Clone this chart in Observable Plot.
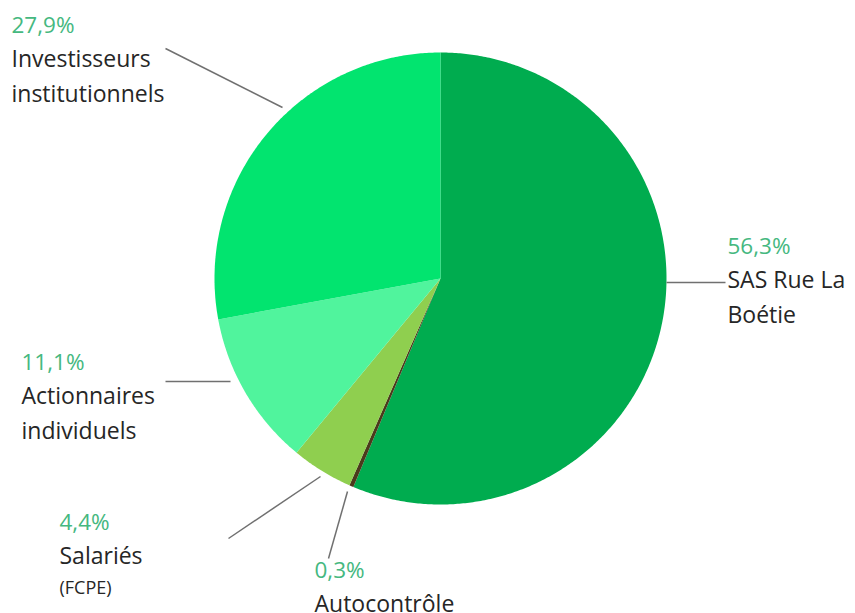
<!DOCTYPE html>
<html>
<head>
<meta charset="utf-8">
<script src="https://cdn.jsdelivr.net/npm/d3@7"></script>
<script src="https://cdn.jsdelivr.net/npm/@observablehq/plot@0.6"></script>
<style>
  html, body { margin: 0; padding: 0; background: #fff; }
  #chart { width: 855px; height: 613px; }
</style>
</head>
<body>
<div id="chart"></div>
<script>
// ---- data ----
const categories = ["SAS Rue La Boétie", "Autocontrôle", "Salariés (FCPE)", "Actionnaires individuels", "Investisseurs institutionnels"];
const values = [56.3, 0.3, 4.4, 11.1, 27.9];
const pctLabels = ["56,3%", "0,3%", "4,4%", "11,1%", "27,9%"];
const nameLines = [["SAS Rue La", "Boétie"], ["Autocontrôle"], ["Salariés"], ["Actionnaires", "individuels"], ["Investisseurs", "institutionnels"]];
const subLines = [null, null, "(FCPE)", null, null];
const colors = ["#00ac4f", "#4b3a1c", "#8fcf4f", "#50f49d", "#02e46f"];

// ---- layout ----
const W = 855, H = 613;
const cx = 440, cy = 278, R = 226;
// label layout: text left x, percent-line center y, leader line (from -> to)
const labelLayout = [
  {tx: 727, ty: 246, x1: 666, y1: 282, x2: 725, y2: 282},
  {tx: 314, ty: 570, x1: 347, y1: 491, x2: 328, y2: 558},
  {tx: 59,  ty: 522, x1: 320, y1: 476, x2: 228, y2: 538},
  {tx: 21,  ty: 362, x1: 230, y1: 381, x2: 165, y2: 381},
  {tx: 11,  ty: 25,  x1: 282, y1: 107, x2: 165, y2: 48}
];
const lineGap = 34.5;

// slices from d3.pie (clockwise from 12 o'clock)
const arcs = d3.pie().sort(null).value(d => d)(values);
const slicePts = [];
arcs.forEach((a, i) => {
  slicePts.push({slice: categories[i], x: cx, y: cy});
  const n = Math.max(2, Math.ceil((a.endAngle - a.startAngle) / (Math.PI / 360)));
  for (let k = 0; k <= n; k++) {
    const t = a.startAngle + (a.endAngle - a.startAngle) * k / n;
    slicePts.push({slice: categories[i], x: cx + R * Math.sin(t), y: cy - R * Math.cos(t)});
  }
});

const pctRows = categories.map((c, i) => ({text: pctLabels[i], x: labelLayout[i].tx, y: labelLayout[i].ty}));
const nameRows = [];
const subRows = [];
categories.forEach((c, i) => {
  nameLines[i].forEach((t, j) => nameRows.push({text: t, x: labelLayout[i].tx, y: labelLayout[i].ty + lineGap * (j + 1)}));
  if (subLines[i]) subRows.push({text: subLines[i], x: labelLayout[i].tx, y: labelLayout[i].ty + lineGap * (nameLines[i].length + 1) - 3});
});
const links = labelLayout.map((l, i) => ({...l, slice: categories[i]}));

const chart = Plot.plot({
  width: W, height: H,
  margin: 0,
  x: {domain: [0, W], range: [0, W], axis: null},
  y: {domain: [0, H], range: [0, H], axis: null},
  color: {domain: categories, range: colors},
  style: {fontFamily: "'Open Sans', Lato, sans-serif", background: "#fff"},
  marks: [
    Plot.line(slicePts, {x: "x", y: "y", z: "slice", fill: "slice", stroke: "none", curve: "linear-closed"}),
    Plot.link(links, {x1: "x1", y1: "y1", x2: "x2", y2: "y2", stroke: "#707070", strokeWidth: 1.5}),
    Plot.text(pctRows, {x: "x", y: "y", text: "text", textAnchor: "start", fill: "#45b880", fontSize: 22.5}),
    Plot.text(nameRows, {x: "x", y: "y", text: "text", textAnchor: "start", fill: "#262626", fontSize: 23}),
    Plot.text(subRows, {x: "x", y: "y", text: "text", textAnchor: "start", fill: "#262626", fontSize: 18})
  ]
});
document.getElementById("chart").appendChild(chart);
</script>
</body>
</html>
